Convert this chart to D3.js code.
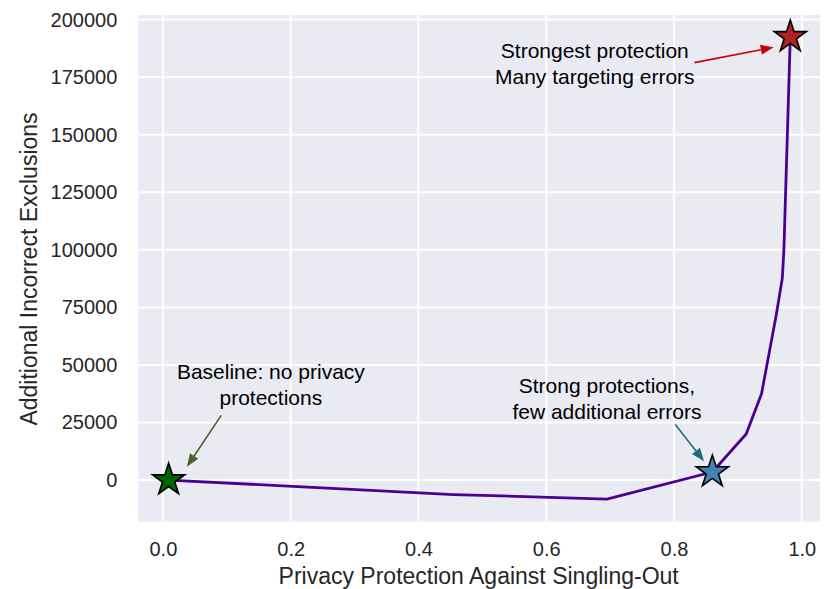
<!DOCTYPE html>
<html>
<head>
<meta charset="utf-8">
<script src="https://cdn.jsdelivr.net/npm/d3@7"></script>
<style>
  body { margin: 0; background: #ffffff; }
  text { font-family: "Liberation Sans", Arial, sans-serif; }
</style>
</head>
<body>
<script>
// frontier curve: privacy protection vs additional incorrect exclusions
const protection = [0.009, 0.455, 0.695, 0.86, 0.913, 0.937, 0.96, 0.9695, 0.972, 0.982];
const exclusions = [0, -6300, -8250, 3500, 20000, 37500, 71700, 87700, 100000, 192500];

// highlighted points
const starX = [0.009, 0.86, 0.982];
const starY = [0, 3500, 192500];
const starFill = ["#006400", "#4682b4", "#b22222"];

const xTicks = [0, 0.2, 0.4, 0.6, 0.8, 1.0];
const yTicks = [0, 25000, 50000, 75000, 100000, 125000, 150000, 175000, 200000];

// annotations, in data units: text anchor, arrow tail, arrow tip
const noteLines = [
  ["Baseline: no privacy", "protections"],
  ["Strong protections,", "few additional errors"],
  ["Strongest protection", "Many targeting errors"]
];
const noteX = [0.169, 0.695, 0.676];
const noteY = [43900, 37800, 183400];
const arrowFrom = [[0.0913, 28100], [0.802, 24100], [0.832, 181300]];
const arrowTo = [[0.0376, 5760], [0.847, 8200], [0.956, 188000]];
const arrowColor = ["#4f5f2f", "#1e6b78", "#cc0000"];

const width = 831, height = 589;
const plotLeft = 138.3, plotRight = 820, plotTop = 15, plotBottom = 521.5;

const svg = d3.select("body")
  .append("svg")
  .attr("width", width)
  .attr("height", height);

const x = d3.scaleLinear().domain([-0.0385, 1.0285]).range([plotLeft, plotRight]);
const y = d3.scaleLinear().domain([-18000, 202000]).range([plotBottom, plotTop]);

svg.append("rect")
  .attr("x", plotLeft)
  .attr("y", plotTop)
  .attr("width", plotRight - plotLeft)
  .attr("height", plotBottom - plotTop)
  .attr("fill", "#eaeaf2");

// grid
svg.append("g")
  .selectAll("line")
  .data(xTicks)
  .join("line")
  .attr("x1", d => x(d))
  .attr("x2", d => x(d))
  .attr("y1", plotTop)
  .attr("y2", plotBottom)
  .attr("stroke", "#ffffff")
  .attr("stroke-width", 2);

svg.append("g")
  .selectAll("line")
  .data(yTicks)
  .join("line")
  .attr("x1", plotLeft)
  .attr("x2", plotRight)
  .attr("y1", d => y(d))
  .attr("y2", d => y(d))
  .attr("stroke", "#ffffff")
  .attr("stroke-width", 2);

// axes (no domain line, no ticks, like seaborn darkgrid)
const xAxis = svg.append("g")
  .attr("transform", `translate(0, ${plotBottom})`)
  .call(d3.axisBottom(x).tickValues(xTicks).tickFormat(d3.format(".1f")).tickSize(0).tickPadding(20.5));

const yAxis = svg.append("g")
  .attr("transform", `translate(${plotLeft}, 0)`)
  .call(d3.axisLeft(y).tickValues(yTicks).tickFormat(d3.format("d")).tickSize(0).tickPadding(21));

[xAxis, yAxis].forEach(a => {
  a.select(".domain").remove();
  a.selectAll("text")
    .style("font-family", "'Liberation Sans', Arial, sans-serif")
    .style("font-size", "20px")
    .attr("fill", "#262626");
});

svg.append("text")
  .attr("x", (plotLeft + plotRight) / 2 - 0.5)
  .attr("y", 583.5)
  .attr("text-anchor", "middle")
  .style("font-size", "23px")
  .attr("fill", "#262626")
  .text("Privacy Protection Against Singling-Out");

svg.append("text")
  .attr("transform", `translate(37, 269) rotate(-90)`)
  .attr("text-anchor", "middle")
  .style("font-size", "23px")
  .attr("fill", "#262626")
  .text("Additional Incorrect Exclusions");

// curve
const points = protection.map((p, i) => [p, exclusions[i]]);
svg.append("path")
  .datum(points)
  .attr("fill", "none")
  .attr("stroke", "#4b0092")
  .attr("stroke-width", 2.8)
  .attr("stroke-linejoin", "round")
  .attr("d", d3.line().x(d => x(d[0])).y(d => y(d[1])));

// stars
const star = d3.symbol().type(d3.symbolStar).size(320);
svg.append("g")
  .selectAll("path")
  .data(starX)
  .join("path")
  .attr("transform", (d, i) => `translate(${x(d)}, ${y(starY[i])})`)
  .attr("d", star)
  .attr("fill", (d, i) => starFill[i])
  .attr("stroke", "#000000")
  .attr("stroke-width", 1.6)
  .attr("stroke-linejoin", "miter");

// arrows
const headLen = 13, headW = 10;
arrowFrom.forEach((f, i) => {
  const x0 = x(f[0]), y0 = y(f[1]);
  const x1 = x(arrowTo[i][0]), y1 = y(arrowTo[i][1]);
  const ang = Math.atan2(y1 - y0, x1 - x0);
  const bx = x1 - headLen * Math.cos(ang), by = y1 - headLen * Math.sin(ang);
  const px = -Math.sin(ang) * headW / 2, py = Math.cos(ang) * headW / 2;
  svg.append("line")
    .attr("x1", x0).attr("y1", y0)
    .attr("x2", bx).attr("y2", by)
    .attr("stroke", arrowColor[i])
    .attr("stroke-width", 1.6);
  svg.append("path")
    .attr("d", `M${x1},${y1}L${bx + px},${by + py}L${bx - px},${by - py}Z`)
    .attr("fill", arrowColor[i]);
});

// annotation text
noteLines.forEach((lines, i) => {
  const t = svg.append("text")
    .attr("x", x(noteX[i]))
    .attr("y", y(noteY[i]))
    .attr("text-anchor", "middle")
    .style("font-size", "21px")
    .attr("fill", "#000000");
  lines.forEach((s, j) => {
    t.append("tspan")
      .attr("x", x(noteX[i]))
      .attr("dy", j === 0 ? 0 : 25.8)
      .text(s);
  });
});
</script>
</body>
</html>
